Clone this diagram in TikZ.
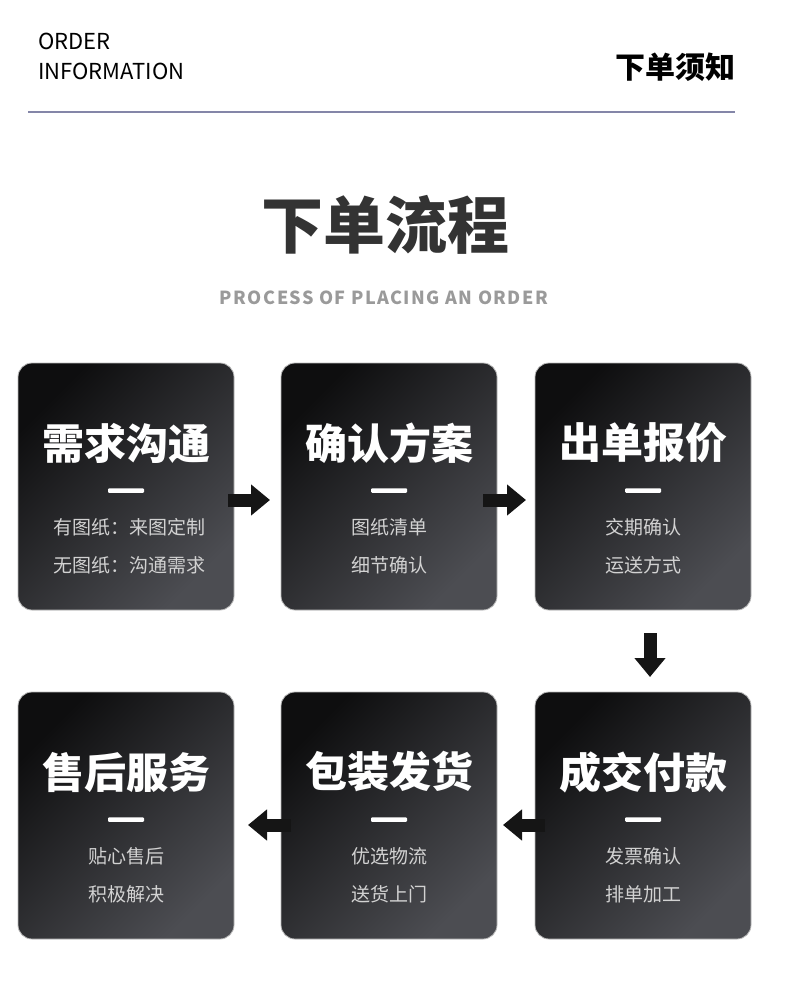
\documentclass[tikz,border=0pt]{standalone}
\usepackage{fontspec}
\setmainfont{Noto Sans CJK SC}
\newfontfamily\spacedfont[LetterSpace=8]{Noto Sans CJK SC}
\usetikzlibrary{
    arrows.meta,
    positioning
}
\definecolor{cardtop}{HTML}{0E0E0F}
\definecolor{cardbot}{HTML}{4C4D52}
\definecolor{rulecol}{HTML}{8486A8}
\definecolor{headcol}{HTML}{333333}
\definecolor{subcol}{HTML}{9A9A9A}
\definecolor{linecol}{HTML}{D2D2D2}
\definecolor{arrowcol}{HTML}{151515}

\begin{document}
\begin{tikzpicture}[
    x=1pt,
    y=-1pt,
    card/.style={
        rectangle,
        rounded corners=14pt,
        draw=gray!55,
        line width=0.8pt,
        top color=cardtop,
        bottom color=cardbot,
        shading angle=45,
        minimum width=216pt,
        minimum height=247pt,
        outer sep=0pt,
        inner sep=0pt
    },
    ctitle/.style={
        text=white,
        font=\bfseries\fontsize{42}{42}\selectfont,
        inner sep=0pt
    },
    cbar/.style={
        fill=white,
        minimum width=36pt,
        minimum height=4.5pt,
        inner sep=0pt,
        rounded corners=1pt
    },
    cline/.style={
        text=linecol,
        font=\fontsize{19}{19}\selectfont,
        inner sep=0pt
    },
    flow/.style={
        draw=arrowcol,
        line width=13pt,
        -{Triangle[width=30pt,length=19pt]}
    }
]

\path[fill=white,use as bounding box] (0,0) rectangle (790,984);

%--------------------------------------------------
% header
\node[anchor=west,inner sep=0pt,font=\fontsize{22}{22}\selectfont] (order) at (38,41) {ORDER};
\node[anchor=west,inner sep=0pt,font=\fontsize{22}{22}\selectfont] (info) at (38,71.5) {INFORMATION};
\node[anchor=east,inner sep=0pt,font=\bfseries\fontsize{30}{30}\selectfont] (notice) at (736,67.5) {下单须知};
\draw[rulecol,line width=2pt] (28,112) -- (735,112);

\node[inner sep=0pt,text=headcol,font=\bfseries\fontsize{62}{62}\selectfont] (maintitle) at (385,225) {下单流程};
\node[inner sep=0pt,text=subcol,font=\spacedfont\bfseries\fontsize{18}{18}\selectfont] (subtitle) at (384,298) {PROCESS OF PLACING AN ORDER};

%--------------------------------------------------
% cards
\node[card] (xuqiu) at (126,486.5) {};
\node[card,right=47pt of xuqiu] (queren) {};
\node[card,right=38pt of queren] (baojia) {};
\node[card,below=82pt of baojia] (fukuan) {};
\node[card,left=38pt of fukuan] (fahuo) {};
\node[card,left=47pt of fahuo] (shouhou) {};

\node[ctitle] (xuqiu_t) at ([yshift=-80pt]xuqiu.north) {需求沟通};
\node[cbar] (xuqiu_b) at ([yshift=-127.5pt]xuqiu.north) {};
\node[cline] (xuqiu_l1) at ([xshift=3pt,yshift=-164.5pt]xuqiu.north) {有图纸：来图定制};
\node[cline] (xuqiu_l2) at ([xshift=3pt,yshift=-202.5pt]xuqiu.north) {无图纸：沟通需求};

\node[ctitle] (queren_t) at ([yshift=-80pt]queren.north) {确认方案};
\node[cbar] (queren_b) at ([yshift=-127.5pt]queren.north) {};
\node[cline] (queren_l1) at ([yshift=-164.5pt]queren.north) {图纸清单};
\node[cline] (queren_l2) at ([yshift=-202.5pt]queren.north) {细节确认};

\node[ctitle] (baojia_t) at ([yshift=-80pt]baojia.north) {出单报价};
\node[cbar] (baojia_b) at ([yshift=-127.5pt]baojia.north) {};
\node[cline] (baojia_l1) at ([yshift=-164.5pt]baojia.north) {交期确认};
\node[cline] (baojia_l2) at ([yshift=-202.5pt]baojia.north) {运送方式};

\node[ctitle] (fukuan_t) at ([yshift=-80pt]fukuan.north) {成交付款};
\node[cbar] (fukuan_b) at ([yshift=-127.5pt]fukuan.north) {};
\node[cline] (fukuan_l1) at ([yshift=-164.5pt]fukuan.north) {发票确认};
\node[cline] (fukuan_l2) at ([yshift=-202.5pt]fukuan.north) {排单加工};

\node[ctitle] (fahuo_t) at ([yshift=-80pt]fahuo.north) {包装发货};
\node[cbar] (fahuo_b) at ([yshift=-127.5pt]fahuo.north) {};
\node[cline] (fahuo_l1) at ([yshift=-164.5pt]fahuo.north) {优选物流};
\node[cline] (fahuo_l2) at ([yshift=-202.5pt]fahuo.north) {送货上门};

\node[ctitle] (shouhou_t) at ([yshift=-80pt]shouhou.north) {售后服务};
\node[cbar] (shouhou_b) at ([yshift=-127.5pt]shouhou.north) {};
\node[cline] (shouhou_l1) at ([yshift=-164.5pt]shouhou.north) {贴心售后};
\node[cline] (shouhou_l2) at ([yshift=-202.5pt]shouhou.north) {积极解决};

%--------------------------------------------------
% arrows
\draw[flow,shorten <=-6pt,shorten >=11pt] ([yshift=-13.5pt]xuqiu.east) -- ([yshift=-13.5pt]queren.west);
\draw[flow,shorten <=-14pt,shorten >=9pt] ([yshift=-13.5pt]queren.east) -- ([yshift=-13.5pt]baojia.west);
\draw[flow,shorten <=23pt,shorten >=15pt] ([xshift=7pt]baojia.south) -- ([xshift=7pt]fukuan.north);
\draw[flow,shorten <=-10pt,shorten >=6pt] ([yshift=-9.5pt]fukuan.west) -- ([yshift=-9.5pt]fahuo.east);
\draw[flow,shorten <=-10pt,shorten >=14pt] ([yshift=-9.5pt]fahuo.west) -- ([yshift=-9.5pt]shouhou.east);

\end{tikzpicture}
\end{document}
